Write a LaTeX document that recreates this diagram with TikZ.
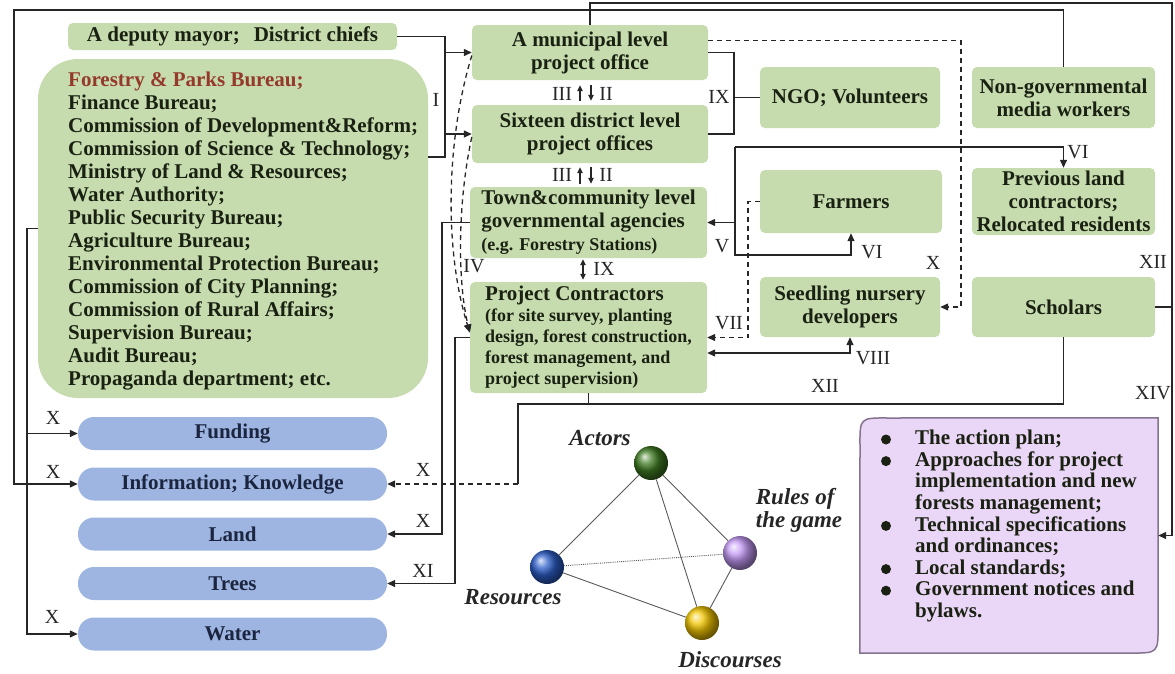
\documentclass[tikz,border=0pt]{standalone}
\usepackage{fontspec}
\setmainfont{Liberation Serif}
\usetikzlibrary{arrows.meta}
\definecolor{boxgreen}{HTML}{C6DCAE}
\definecolor{ellblue}{HTML}{9DB5E0}
\definecolor{ellfont}{HTML}{1B2540}
\definecolor{plfill}{HTML}{EAD6F6}
\definecolor{pldraw}{HTML}{85728F}
\definecolor{linec}{HTML}{262626}
\definecolor{txtc}{HTML}{1A2112}
\definecolor{forred}{HTML}{953A2B}
\definecolor{actc}{HTML}{3F7A22}
\definecolor{rulc}{HTML}{C49AF5}
\definecolor{resc}{HTML}{2D5EC8}
\definecolor{disc}{HTML}{F2C500}
\tikzset{
  bigf/.style={font=\fontsize{21}{23}\selectfont\bfseries},
  gbox/.style={bigf, fill=boxgreen, rounded corners=5pt, inner sep=0pt, align=center, text=txtc},
  ell/.style={bigf, fill=ellblue, rounded corners=16pt, inner sep=0pt, minimum width=309pt, minimum height=33pt, text=ellfont},
  conn/.style={line width=1.3pt, draw=linec},
  arr/.style={conn, -{Triangle[length=8pt,width=7pt]}},
  sarr/.style={conn, line width=1.1pt, -{Triangle[length=6pt,width=5.5pt]}},
  darr/.style={conn, {Triangle[length=8pt,width=7pt]}-{Triangle[length=8pt,width=7pt]}},
  sdarr/.style={conn, line width=1.1pt, {Triangle[length=6pt,width=5.5pt]}-{Triangle[length=6pt,width=5.5pt]}},
  dsh/.style={dash pattern=on 5pt off 4pt},
  lab/.style={font=\fontsize{20}{20}\selectfont, inner sep=0pt, text=linec},
  tet/.style={line width=0.9pt, draw=black!65},
  ballnode/.style={circle, inner sep=0pt, minimum size=34pt, shading=ball},
  tlab/.style={font=\fontsize{23}{23}\selectfont\bfseries\itshape, inner sep=0pt, align=left, text=black!85},
  bulletdot/.style={fill=txtc},
}
\begin{document}
\begin{tikzpicture}[x=1pt,y=-1pt]
\useasboundingbox (0,0) rectangle (1175,673);

% ---------- green actor boxes ----------
\node[gbox, minimum width=329pt, minimum height=27pt] (dep) at (232.5,36.5) {A deputy mayor;\hspace{14pt}District chiefs};
\node[gbox, rounded corners=40pt, minimum width=390pt, minimum height=339pt] (agencies) at (233,228.5) {};
\node[bigf, anchor=west, align=left, inner sep=0pt, text=txtc] (agtext) at (68,231) {\textcolor{forred}{Forestry \& Parks Bureau;}\\Finance Bureau;\\Commission of Development\&Reform;\\Commission of Science \& Technology;\\Ministry of Land \& Resources;\\Water Authority;\\Public Security Bureau;\\Agriculture Bureau;\\Environmental Protection Bureau;\\Commission of City Planning;\\Commission of Rural Affairs;\\Supervision Bureau;\\Audit Bureau;\\Propaganda department; etc.};

\node[gbox, minimum width=236pt, minimum height=55pt] (mun) at (590,52.5) {A municipal level\\project office};
\node[gbox, minimum width=236pt, minimum height=58pt] (six) at (590,134) {Sixteen district level\\project offices};
\node[gbox, align=left, minimum width=237pt, minimum height=71pt] (town) at (588.5,222.5) {Town\&community level\\governmental agencies\\{\fontsize{18}{23}\selectfont(e.g. Forestry Stations)}};
\node[gbox, align=left, font=\fontsize{18}{21}\selectfont\bfseries, minimum width=237pt, minimum height=111pt] (cont) at (588.5,337.5) {{\fontsize{21}{23}\selectfont Project Contractors}\\(for site survey, planting\\design, forest construction,\\forest management, and\\project supervision)};

\node[gbox, minimum width=180pt, minimum height=61pt] (ngo) at (850,97.5) {NGO; Volunteers};
\node[gbox, minimum width=183pt, minimum height=61pt] (media) at (1063.5,97.5) {Non-governmental\\media workers};
\node[gbox, minimum width=182pt, minimum height=63pt] (farm) at (851,201.5) {Farmers};
\node[gbox, minimum width=183pt, minimum height=67pt] (prev) at (1063.5,201.5) {Previous land\\contractors;\\Relocated residents};
\node[gbox, minimum width=180pt, minimum height=60pt] (seed) at (850,307) {Seedling nursery\\developers};
\node[gbox, minimum width=183pt, minimum height=60pt] (schol) at (1063.5,307) {Scholars};

% ---------- resources ----------
\node[ell] (fund) at (232.5,433.5) {Funding};
\node[ell] (info) at (232.5,484) {Information; Knowledge};
\node[ell] (land) at (232.5,534) {Land};
\node[ell] (trees) at (232.5,583.5) {Trees};
\node[ell] (water) at (232.5,634) {Water};

% ---------- rules of the game box ----------
\node[minimum width=298pt, minimum height=235pt, inner sep=0pt] (plan) at (1009,535.5) {};
\draw[fill=plfill, draw=pldraw, line width=1.5pt] (plan.south west) -- (860,446) .. controls (plan.north west) .. (888,418) -- (plan.north east) -- (1158,625) .. controls (plan.south east) .. (1130,653) -- cycle;
\node[anchor=north west, inner sep=0pt, text=txtc, font=\fontsize{21}{21.6}\selectfont\bfseries, align=left] (plantext) at (915,430) {The action plan;\\Approaches for project\\implementation and new\\forests management;\\Technical specifications\\and ordinances;\\Local standards;\\Government notices and\\bylaws.};
\foreach \k in {0,1,4,6,7} {
  \fill[bulletdot] (886,{439.5+21.6*\k}) circle (5pt);
}

% ---------- tetrahedron ----------
\node[ballnode, ball color=actc] (act) at (651,463) {};
\node[ballnode, ball color=rulc] (rul) at (740,553) {};
\node[ballnode, ball color=resc] (res) at (547,567) {};
\node[ballnode, ball color=disc] (dis) at (702,623) {};
\draw[tet] (act) -- (res);
\draw[tet] (act) -- (rul);
\draw[tet] (act) -- (dis);
\draw[tet] (res) -- (dis);
\draw[tet] (rul) -- (dis);
\draw[tet, densely dotted] (res) -- (rul);
\node[tlab] (actl) at (600,438) {Actors};
\node[tlab] (rull) at (799,510) {Rules of\\the game};
\node[tlab] (resl) at (513,597) {Resources};
\node[tlab] (disl) at (730,660) {Discourses};

% ---------- connectors ----------
% media -> information (outer loop)
\draw[arr] (media.north) -- (1063.5,10) -- (14,10) -- (14,484) -- (info.west);
% municipal -> rules (outer right loop), scholars joins
\draw[arr] (mun.north) -- (590,3) -- (1172,3) -- (1172,535.5) -- (plan.east);
\draw[conn] (schol.east) -- (1172,307);
% I
\draw[conn] (dep.east) -- (445,36.5) -- (445,157) -- (agencies.east |- 445,157);
\draw[arr] (445,52.5) -- (mun.west);
\draw[arr] (445,134) -- (six.west);
% IV dashed
\draw[arr, dsh] ([yshift=-3pt]mun.west) .. controls (446,140) and (444,250) .. ([yshift=5pt]cont.west);
\draw[arr, dsh] ([yshift=-3pt]six.west) .. controls (458,200) and (457,280) .. ([yshift=5pt]cont.west);
% II / III
\draw[sarr] ([xshift=-10pt,yshift=4pt]six.north) -- ([xshift=-10pt,yshift=-5pt]mun.south);
\draw[sarr] ([xshift=1pt,yshift=-5pt]mun.south) -- ([xshift=1pt,yshift=4pt]six.north);
\draw[sarr] ([xshift=-8.5pt,yshift=3pt]town.north) -- ([xshift=-10pt,yshift=-4pt]six.south);
\draw[sarr] ([xshift=1pt,yshift=-4pt]six.south) -- ([xshift=2.5pt,yshift=3pt]town.north);
\draw[sdarr] ([xshift=-5.5pt,yshift=-1pt]town.south) -- ([xshift=-5.5pt,yshift=2pt]cont.north);
% town -> land, contractors -> trees
\draw[arr] (town.west) -- (442,222.5) -- (442,534) -- (land.east);
\draw[arr] (cont.west) -- (455,337.5) -- (455,583.5) -- (trees.east);
% agencies -> funding, water
\draw[arr] (agencies.west) -- (27,228.5) -- (27,634) -- (water.west);
\draw[arr] (27,433.5) -- (fund.west);
% scholars / contractors -> information
\draw[conn] (schol.south) -- (1063.5,404) -- (518,404) -- (518,484);
\draw[conn] (cont.south) -- (588.5,404);
\draw[arr, dsh] (518,484) -- (info.east);
% IX to NGO
\draw[conn] (mun.east) -- (734,52.5) -- (734,134) -- (six.east);
\draw[conn] (734,97.5) -- (ngo.west);
% X dashed municipal -> seedling
\draw[arr, dsh] ([yshift=12pt]mun.east) -- (961,40.5) -- (961,307) -- (seed.east);
% V / VI
\draw[arr] (735,147) -- (1063.5,147) -- (prev.north);
\draw[arr] (735,147) -- (735,255) -- (851,255) -- (farm.south);
\draw[arr] (735,222.5) -- (town.east);
% VII dashed
\draw[arr, dsh] (farm.west) -- (748,201.5) -- (748,337.5) -- (cont.east);
% VIII
\draw[darr] ([yshift=-15.5pt]cont.east) -- (850,353) -- (seed.south);

% ---------- roman labels ----------
\node[lab] (lI) at (436,100) {I};
\node[lab] (lIIIa) at (562,94) {III};
\node[lab] (lIIa) at (606,94) {II};
\node[lab] (lIIIb) at (562,175) {III};
\node[lab] (lIIb) at (606,175) {II};
\node[lab] (lIXa) at (719,97) {IX};
\node[lab] (lIV) at (474,266) {IV};
\node[lab] (lIXb) at (604,269) {IX};
\node[lab] (lV) at (722,246) {V};
\node[lab] (lVIa) at (1078,152) {VI};
\node[lab] (lVIb) at (872,252) {VI};
\node[lab] (lXs) at (933,263) {X};
\node[lab] (lVII) at (729,323) {VII};
\node[lab] (lVIII) at (873,358) {VIII};
\node[lab] (lXIIa) at (1153,262) {XII};
\node[lab] (lXIV) at (1153,393) {XIV};
\node[lab] (lXIIb) at (825,386) {XII};
\node[lab] (lXf) at (53,418) {X};
\node[lab] (lXi) at (53,472) {X};
\node[lab] (lXw) at (52,617) {X};
\node[lab] (lXi2) at (423,470) {X};
\node[lab] (lXl) at (423,521) {X};
\node[lab] (lXI) at (423,571) {XI};
\end{tikzpicture}
\end{document}
